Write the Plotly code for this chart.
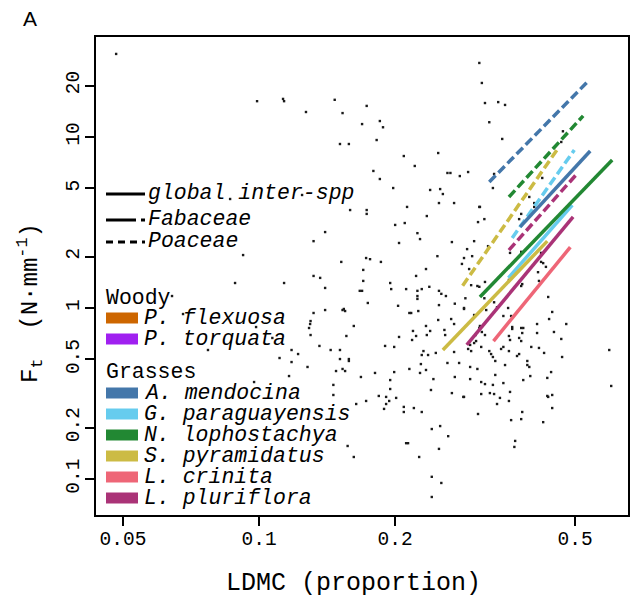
import plotly.graph_objects as go

# ---------------- data ----------------
ldmc = [
    0.0483, 0.099, 0.113, 0.1136, 0.127, 0.147, 0.153, 0.173, 0.185, 0.188,
    0.169, 0.182, 0.151, 0.158, 0.209, 0.221, 0.179, 0.185, 0.198, 0.1245,
    0.0863, 0.307, 0.311, 0.316, 0.338, 0.350, 0.323, 0.345, 0.249, 0.470,
    0.466, 0.261, 0.265, 0.278, 0.290, 0.331, 0.239, 0.2515, 0.255, 0.329,
    0.423, 0.396, 0.159, 0.173, 0.173, 0.2125, 0.200, 0.210, 0.140, 0.132,
    0.224, 0.227, 0.204, 0.0922, 0.152, 0.1725, 0.176, 0.186, 0.170, 0.132,
    0.1365, 0.0885, 0.1136, 0.170, 0.140, 0.195, 0.196, 0.2115, 0.2225, 0.224,
    0.229, 0.167, 0.169, 0.224, 0.224, 0.174, 0.203, 0.140, 0.153, 0.154,
    0.155, 0.132, 0.215, 0.217, 0.225, 0.130, 0.1297, 0.129, 0.162, 0.0985,
    0.130, 0.156, 0.219, 0.2225, 0.204, 0.218, 0.107, 0.136, 0.118, 0.122,
    0.144, 0.151, 0.190, 0.199, 0.231, 0.229, 0.111, 0.151, 0.158, 0.250,
    0.270, 0.307, 0.308, 0.235, 0.315, 0.305, 0.406, 0.406, 0.380, 0.376,
    0.267, 0.299, 0.321, 0.2885, 0.248, 0.296, 0.284, 0.281, 0.2915, 0.234,
    0.359, 0.380, 0.4205, 0.4205, 0.425, 0.431, 0.414, 0.316, 0.304, 0.2945,
    0.307, 0.238, 0.250, 0.253, 0.259, 0.286, 0.315, 0.357, 0.382, 0.380,
    0.416, 0.436, 0.250, 0.271, 0.284, 0.284, 0.331, 0.336, 0.318, 0.3555,
    0.445, 0.249, 0.266, 0.270, 0.299, 0.347, 0.361, 0.438, 0.234, 0.239,
    0.257, 0.308, 0.307, 0.311, 0.363, 0.363, 0.380, 0.384, 0.412, 0.478,
    0.235, 0.258, 0.316, 0.301, 0.357, 0.382, 0.412, 0.449, 0.376, 0.466,
    0.359, 0.380, 0.302, 0.299, 0.293, 0.310, 0.347, 0.343, 0.400, 0.416,
    0.290, 0.2945, 0.323, 0.357, 0.2365, 0.246, 0.270, 0.326, 0.329, 0.372,
    0.376, 0.427, 0.468, 0.595, 0.118, 0.128, 0.1165, 0.0975, 0.148, 0.153,
    0.155, 0.158, 0.168, 0.1805, 0.199, 0.215, 0.227, 0.228, 0.195, 0.146,
    0.146, 0.195, 0.184, 0.191, 0.201, 0.1725, 0.194, 0.164, 0.191, 0.189,
    0.209, 0.220, 0.209, 0.229, 0.2115, 0.2136, 0.157, 0.162, 0.226, 0.0642,
    0.0679, 0.0771, 0.261, 0.277, 0.293, 0.304, 0.333, 0.350, 0.392, 0.392,
    0.396, 0.234, 0.243, 0.271, 0.293, 0.333, 0.310, 0.316, 0.329, 0.347,
    0.384, 0.398, 0.434, 0.4425, 0.601, 0.240, 0.267, 0.283, 0.284, 0.310,
    0.324, 0.331, 0.341, 0.359, 0.357, 0.336, 0.434, 0.436, 0.445, 0.445,
    0.382, 0.305, 0.380, 0.361, 0.425, 0.2515, 0.241, 0.262, 0.3685, 0.367,
    0.250, 0.241, 0.253, 0.241,
]
ft = [
    30.6, 16.2, 16.7, 16.2, 14.0, 16.5, 13.8, 15.2, 12.4, 11.4,
    11.9, 9.6, 9.1, 9.1, 7.74, 6.77, 6.33, 5.68, 5.03, 4.58,
    4.34, 27.1, 20.7, 15.8, 16.0, 15.4, 12.2, 9.74, 8.06, 10.8,
    9.35, 6.16, 6.16, 5.91, 6.24, 6.08, 4.90, 4.96, 4.64, 5.03,
    5.76, 4.46, 3.74, 3.74, 3.55, 3.90, 3.06, 3.14, 2.78, 2.46,
    2.74, 2.53, 2.40, 2.04, 1.86, 1.96, 1.93, 1.86, 1.67, 1.54,
    1.50, 1.40, 1.40, 1.44, 1.31, 1.40, 1.29, 1.29, 1.54, 1.26,
    1.29, 1.26, 1.26, 1.175, 1.13, 1.07, 1.03, 0.973, 0.973, 0.987,
    0.960, 0.935, 0.935, 0.935, 0.960, 0.839, 0.806, 0.764, 0.785, 0.774,
    0.695, 0.686, 0.734, 0.686, 0.677, 0.650, 0.668, 0.600, 0.568, 0.538,
    0.568, 0.568, 0.600, 0.592, 0.560, 0.531, 0.510, 0.503, 0.503, 4.11,
    4.11, 3.90, 3.90, 3.45, 3.31, 3.18, 4.11, 3.90, 3.55, 3.31,
    2.43, 2.46, 2.30, 2.21, 2.01, 2.01, 1.96, 1.81, 1.69, 1.69,
    2.10, 2.13, 2.10, 1.86, 1.83, 1.74, 1.62, 1.42, 1.345, 1.36,
    1.33, 1.33, 1.26, 1.21, 1.175, 1.14, 1.14, 1.46, 1.38, 1.345,
    1.44, 1.16, 1.04, 1.06, 1.00, 0.987, 1.08, 1.01, 0.973, 1.00,
    0.948, 0.851, 0.862, 0.806, 0.910, 0.898, 0.898, 0.862, 0.785, 0.734,
    0.744, 0.785, 0.764, 0.724, 0.774, 0.754, 0.764, 0.764, 0.806, 0.806,
    0.695, 0.695, 0.695, 0.695, 0.686, 0.714, 0.714, 0.724, 0.668, 0.659,
    0.650, 0.641, 0.641, 0.624, 0.608, 0.592, 0.592, 0.576, 0.592, 0.584,
    0.576, 0.560, 0.560, 0.560, 0.531, 0.546, 0.553, 0.538, 0.517, 0.524,
    0.538, 0.546, 0.517, 0.568, 0.483, 0.452, 0.400, 0.369, 0.428, 0.440,
    0.428, 0.490, 0.395, 0.417, 0.422, 0.440, 0.417, 0.470, 0.379, 0.355,
    0.310, 0.336, 0.306, 0.302, 0.298, 0.286, 0.286, 0.2745, 0.2745, 0.257,
    0.264, 0.260, 0.2465, 0.2465, 0.162, 0.162, 0.156, 0.1345, 0.1345, 1.175,
    0.922, 0.568, 0.477, 0.477, 0.452, 0.440, 0.490, 0.464, 0.490, 0.464,
    0.452, 0.434, 0.384, 0.395, 0.384, 0.406, 0.369, 0.359, 0.355, 0.364,
    0.379, 0.400, 0.390, 0.422, 0.350, 0.3315, 0.318, 0.302, 0.302, 0.314,
    0.318, 0.314, 0.298, 0.323, 0.286, 0.2745, 0.306, 0.302, 0.310, 0.260,
    0.2465, 0.240, 0.224, 0.221, 0.215, 0.204, 0.196, 0.178, 0.167, 0.154,
    0.150, 0.103, 0.0948, 0.0785,
]

grass_species = ["A. mendocina", "G. paraguayensis", "N. lophostachya",
                 "S. pyramidatus", "L. crinita", "L. pluriflora"]
grass_colors = ["#4477AA", "#66CCEE", "#228833", "#CCBB44", "#EE6677", "#AA3377"]
woody_species = ["P. flexuosa", "P. torquata"]
woody_colors = ["#CD6600", "#A020F0"]

# global inter-spp fits (solid), per grass species
solid_x0 = [0.378, 0.356, 0.308, 0.255, 0.330, 0.288]
solid_y0 = [2.98, 1.50, 1.16, 0.568, 0.641, 0.608]
solid_x1 = [0.540, 0.493, 0.604, 0.434, 0.488, 0.495]
solid_y1 = [8.28, 4.00, 7.34, 2.46, 2.27, 3.41]

# Poaceae fits (dashed)
dash_species = ["A. mendocina", "G. paraguayensis", "N. lophostachya",
                "S. pyramidatus", "L. pluriflora"]
dash_x0 = [0.323, 0.363, 0.357, 0.282, 0.357]
dash_y0 = [5.46, 2.57, 4.46, 1.35, 2.18]
dash_x1 = [0.537, 0.498, 0.521, 0.459, 0.502]
dash_y1 = [21.5, 8.39, 13.3, 8.62, 5.99]

x_ticks = [0.05, 0.1, 0.2, 0.5]
x_tick_labels = ["0.05", "0.1", "0.2", "0.5"]
y_ticks = [0.1, 0.2, 0.5, 1, 2, 5, 10, 20]
y_tick_labels = ["0.1", "0.2", "0.5", "1", "2", "5", "10", "20"]

# ---------------- figure ----------------
W, H = 631, 599
ML, MR, MT, MB = 96, 3, 37, 84
PW, PH = W - ML - MR, H - MT - MB
FONT = "Liberation Mono, DejaVu Sans Mono, monospace"


def px(xp):
    return (xp - ML) / PW


def py(yp):
    return (MT + PH - yp) / PH


color_of = dict(zip(grass_species, grass_colors))

fig = go.Figure()
fig.add_trace(go.Scatter(
    x=ldmc, y=ft, mode="markers",
    marker=dict(size=2.4, color="#1a1a1a", symbol="square", line=dict(width=0)),
    showlegend=False, hoverinfo="skip"))

for i, sp in enumerate(dash_species):
    fig.add_trace(go.Scatter(
        x=[dash_x0[i], dash_x1[i]], y=[dash_y0[i], dash_y1[i]], mode="lines",
        line=dict(color=color_of[sp], width=3.5, dash="9px,4px"),
        showlegend=False, hoverinfo="skip"))

for i, sp in enumerate(grass_species):
    fig.add_trace(go.Scatter(
        x=[solid_x0[i], solid_x1[i]], y=[solid_y0[i], solid_y1[i]], mode="lines",
        line=dict(color=grass_colors[i], width=3.5),
        showlegend=False, hoverinfo="skip"))

axis_common = dict(
    type="log", showline=True, linecolor="black", linewidth=1.5, mirror=True,
    ticks="outside", ticklen=9, tickwidth=1.5, tickcolor="black",
    showgrid=False, zeroline=False, automargin=False,
    tickfont=dict(family=FONT, size=19.5, color="black"))

fig.update_layout(
    width=W, height=H, autosize=False,
    margin=dict(l=ML, r=MR, t=MT, b=MB, autoexpand=False),
    paper_bgcolor="white", plot_bgcolor="white",
    showlegend=False,
    xaxis=dict(axis_common, range=[-1.3606, -0.184], tickvals=x_ticks,
               ticktext=x_tick_labels, ticklabelstandoff=-4),
    yaxis=dict(axis_common, range=[-1.2105, 1.5848], tickvals=y_ticks,
               ticktext=y_tick_labels, tickangle=-90, ticklabelstandoff=-2),
)

annotations = []
shapes = []

# axis titles and panel label
annotations.append(dict(text="LDMC (proportion)", x=px(353), y=py(583),
                        xref="paper", yref="paper", showarrow=False,
                        xanchor="center", yanchor="middle",
                        font=dict(family=FONT, size=25, color="black")))
annotations.append(dict(text="F<sub>t</sub>  (N\u00b7mm<sup>-1</sup>)", x=px(30), y=py(303),
                        xref="paper", yref="paper", showarrow=False, textangle=-90,
                        xanchor="center", yanchor="middle",
                        font=dict(family=FONT, size=24, color="black")))
annotations.append(dict(text="A", x=px(30), y=py(19),
                        xref="paper", yref="paper", showarrow=False,
                        xanchor="center", yanchor="middle",
                        font=dict(family="Liberation Sans, Arial", size=21, color="black")))

leg_font = dict(family=FONT, size=21.5, color="black")

# line-type legend
line_items = [("global inter-spp", "solid", 194), ("Fabaceae", "30px,5px", 220),
              ("Poaceae", "7px,5px", 242)]
for label, dash, yc in line_items:
    shapes.append(dict(type="line", xref="paper", yref="paper",
                       x0=px(106), x1=px(145), y0=py(yc), y1=py(yc),
                       line=dict(color="black", width=3, dash=dash)))
    annotations.append(dict(text="<i>%s</i>" % label, x=px(146), y=py(yc - 1),
                            xref="paper", yref="paper", showarrow=False,
                            xanchor="left", yanchor="middle", font=leg_font))


# species legend
def group(title, ytitle, names, cols, ystart):
    annotations.append(dict(text=title, x=px(104), y=py(ytitle), xref="paper",
                            yref="paper", showarrow=False, xanchor="left",
                            yanchor="middle", font=leg_font))
    for k, (nm, c) in enumerate(zip(names, cols)):
        yc = ystart + k * 21
        shapes.append(dict(type="rect", xref="paper", yref="paper",
                           x0=px(106), x1=px(138), y0=py(yc - 5.5), y1=py(yc + 5.5),
                           fillcolor=c, line=dict(width=0)))
        annotations.append(dict(text="<i>%s</i>" % nm, x=px(142), y=py(yc),
                                xref="paper", yref="paper", showarrow=False,
                                xanchor="left", yanchor="middle", font=leg_font))


group("Woody", 298, woody_species, woody_colors, 318)
group("Grasses", 372, grass_species, grass_colors, 393)

fig.update_layout(annotations=annotations, shapes=shapes)
fig.write_html(
    "out.html",
    config={"displayModeBar": False},
    post_script="document.body.style.margin='0';document.body.style.overflow='hidden';",
)
